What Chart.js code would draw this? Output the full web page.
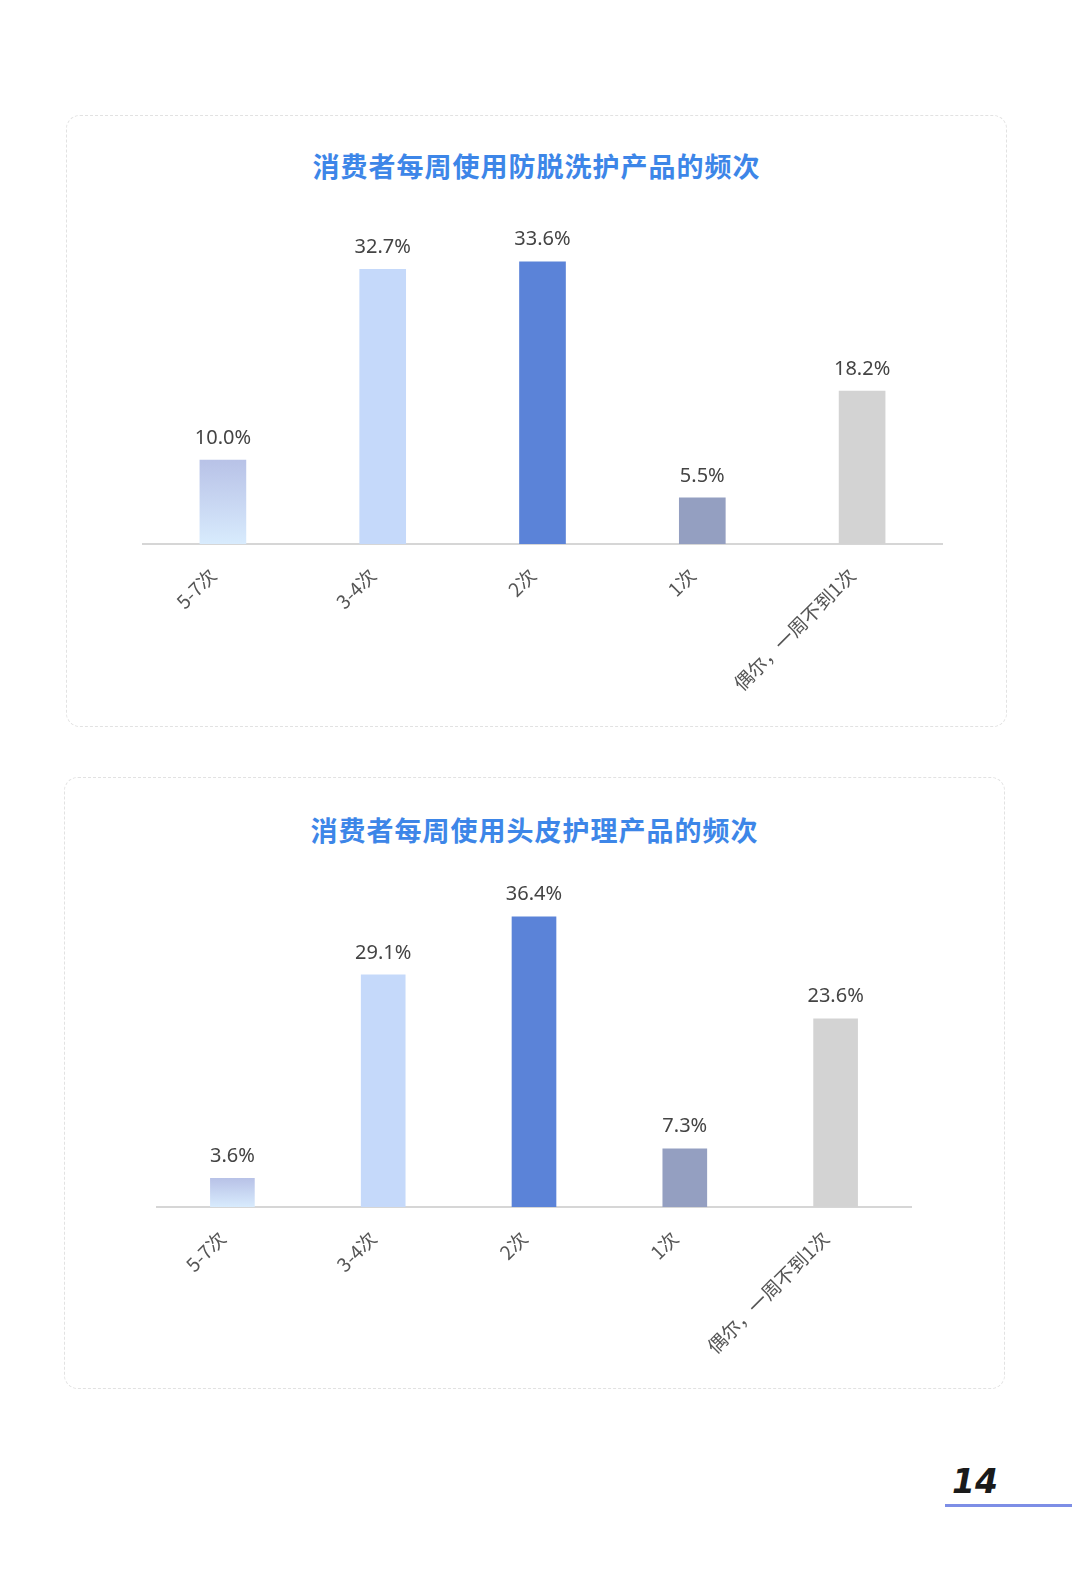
<!DOCTYPE html>
<html>
<head>
<meta charset="utf-8">
<script src="https://cdn.jsdelivr.net/npm/chart.js@4.4.1/dist/chart.umd.min.js"></script>
<style>
  html, body { margin: 0; padding: 0; overflow: hidden; }
  body { background: #fff; width: 1080px; height: 1578px; position: relative; font-family: "Noto Sans CJK SC", "Noto Sans", sans-serif; }
  .box { position: absolute; border: 1.5px dashed #e2e2e2; border-radius: 14px; box-sizing: border-box; overflow: hidden; }
  .title { position: absolute; left: 0; right: 0; text-align: center; color: #3d86e8; font-weight: bold; font-size: 27px; letter-spacing: 1px; line-height: 36px; }
  canvas { position: absolute; left: 0; top: 0; }
  .page { position: absolute; left: 952px; top: 1462px; font-family: "DejaVu Sans", sans-serif; font-weight: bold; font-style: italic; font-size: 33px; line-height: 40px; color: #1a1a1a; }
  .pline { position: absolute; left: 945px; top: 1504px; width: 127px; height: 3px; background: #7d8ee6; }
</style>
</head>
<body>
<div class="box" id="box1" style="left:66px; top:115px; width:941px; height:612px;">
  <div class="title" style="top:32px;">消费者每周使用防脱洗护产品的频次</div>
  <canvas id="c1"></canvas>
</div>
<div class="box" id="box2" style="left:64px; top:777px; width:941px; height:612px;">
  <div class="title" style="top:34px;">消费者每周使用头皮护理产品的频次</div>
  <canvas id="c2"></canvas>
</div>
<div class="page">14</div>
<div class="pline"></div>
<script>
// categories and values
const categories = ['5-7次', '3-4次', '2次', '1次', '偶尔，一周不到1次'];
const antiHairLoss = [10.0, 32.7, 33.6, 5.5, 18.2];
const scalpCare = [3.6, 29.1, 36.4, 7.3, 23.6];

const solidColors = [null, '#c5d9fa', '#5b83d8', '#949fc1', '#d3d3d3'];

// first bar gets a vertical gradient over its own height
function barColor(context) {
  const i = context.dataIndex;
  if (i !== 0) return solidColors[i];
  const chart = context.chart;
  const y = chart.scales.y;
  if (!y || !chart.chartArea) return '#c8d6f2';
  const top = y.getPixelForValue(context.raw);
  const bottom = y.getPixelForValue(0);
  const g = chart.ctx.createLinearGradient(0, top, 0, bottom);
  g.addColorStop(0, '#b8c2e7');
  g.addColorStop(1, '#d8ebfd');
  return g;
}

// value labels above bars
const valueLabels = {
  id: 'valueLabels',
  afterDatasetsDraw(chart) {
    const ctx = chart.ctx;
    const meta = chart.getDatasetMeta(0);
    ctx.save();
    ctx.fillStyle = '#444';
    ctx.font = '20px "Noto Sans", "DejaVu Sans", sans-serif';
    ctx.textAlign = 'center';
    ctx.textBaseline = 'bottom';
    meta.data.forEach((bar, i) => {
      const v = chart.data.datasets[0].data[i];
      ctx.fillText(v.toFixed(1) + '%', bar.x, bar.y - 12);
    });
    ctx.restore();
  }
};

function makeChart(id, values, w, h, pad, thickness) {
  const canvas = document.getElementById(id);
  canvas.width = w; canvas.height = h;
  canvas.style.width = w + 'px';
  canvas.style.height = h + 'px';
  return new Chart(canvas, {
    type: 'bar',
    data: {
      labels: categories,
      datasets: [{ data: values, backgroundColor: barColor, barThickness: thickness, borderWidth: 0 }]
    },
    options: {
      responsive: false,
      animation: false,
      devicePixelRatio: 1,
      layout: { padding: pad },
      plugins: { legend: { display: false }, tooltip: { enabled: false } },
      scales: {
        y: { display: false, min: 0, max: 40 },
        x: {
          grid: { display: false, drawTicks: false },
          border: { color: '#d6d6d6', width: 2 },
          ticks: {
            color: '#555',
            font: { size: 19, family: '"Noto Sans CJK SC", sans-serif' },
            maxRotation: 45, minRotation: 45,
            labelOffset: -10,
            padding: 20
          },
          afterFit(axis) { axis.height = 160; }
        }
      }
    },
    plugins: [valueLabels]
  });
}

makeChart('c1', antiHairLoss, 938, 609, { left: 76, right: 63, top: 92, bottom: 21 }, 46);
makeChart('c2', scalpCare, 938, 609, { left: 92, right: 92, top: 110, bottom: 20 }, 44);
</script>
</body>
</html>
